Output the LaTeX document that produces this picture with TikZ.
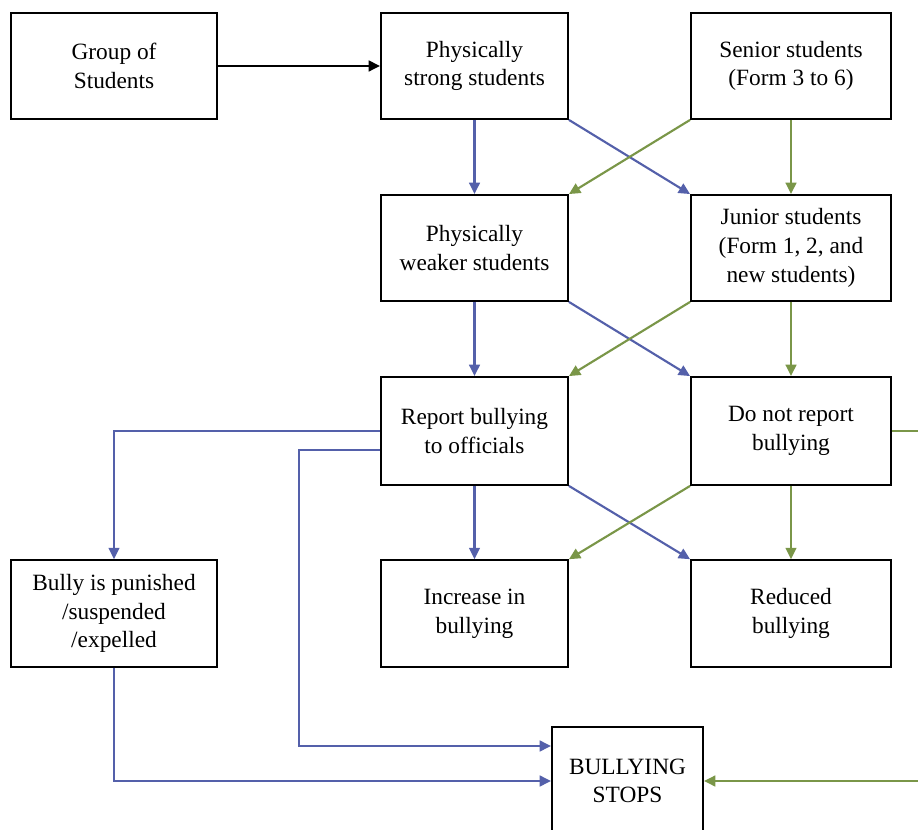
\documentclass[tikz,border=0pt]{standalone}
\usepackage{fontspec}
\setmainfont{Liberation Serif}
\usetikzlibrary{arrows.meta}
\definecolor{bblue}{RGB}{84,96,170}
\definecolor{bgreen}{RGB}{122,150,72}
\begin{document}
\begin{tikzpicture}[x=0.75pt,y=-0.75pt,
  box/.style={draw=black,line width=1.4pt,fill=white,align=center,inner sep=2pt,
    minimum height=79.5pt,font=\fontsize{17.5}{21.5}\selectfont},
  wA/.style={box,minimum width=154.5pt},
  wB/.style={box,minimum width=140.25pt},
  wC/.style={box,minimum width=150pt},
  tip/.style={-{Triangle[length=8.5pt,width=8pt]}},
  bl/.style={tip,draw=bblue,line width=1.6pt},
  gr/.style={tip,draw=bgreen,line width=1.6pt},
  bk/.style={tip,draw=black,line width=1.6pt}]
\useasboundingbox (0,0) rectangle (918,830);
\node[wA] (group) at (114,66) {Group of\\Students};
\node[wB] (strong) at (474.5,66) {Physically\\strong students};
\node[wC] (senior) at (791,66) {Senior students\\(Form 3 to 6)};
\node[wB] (weaker) at (474.5,248) {Physically\\weaker students};
\node[wC] (junior) at (791,248) {Junior students\\(Form 1, 2, and\\new students)};
\node[wB,minimum height=81pt] (report) at (474.5,431) {Report bullying\\to officials};
\node[wC,minimum height=81pt] (dnr) at (791,431) {Do not report\\bullying};
\node[wA,minimum height=80pt] (punished) at (114,613.5) {Bully is punished\\/suspended\\/expelled};
\node[wB,minimum height=80pt] (increase) at (474.5,613.5) {Increase in\\bullying};
\node[wC,minimum height=80pt] (reduced) at (791,613.5) {Reduced\\bullying};
\node[box,minimum width=113.25pt,minimum height=81pt] (stops) at (627.5,781) {BULLYING\\STOPS};

\draw[bk] (group) -- (strong);
\draw[bl] (strong.south) -- (weaker.north);
\draw[bl] (strong.south east) -- (junior.north west);
\draw[gr] (senior.south west) -- (weaker.north east);
\draw[gr] (senior.south) -- (junior.north);
\draw[bl] (weaker.south) -- (report.north);
\draw[bl] (weaker.south east) -- (dnr.north west);
\draw[gr] (junior.south west) -- (report.north east);
\draw[gr] (junior.south) -- (dnr.north);
\draw[bl] (report.south) -- (increase.north);
\draw[bl] (report.south east) -- (reduced.north west);
\draw[gr] (dnr.south west) -- (increase.north east);
\draw[gr] (dnr.south) -- (reduced.north);

\draw[bl] (report.west) -| (punished.north);
\coordinate (c1) at (299,746);
\draw[bl] ([yshift=-14.5pt]report.west) -| (c1) -- (c1 -| stops.west);
\draw[bl] (punished.south) |- (stops.west);
\coordinate (e1) at (930,431);
\coordinate (e2) at (930,781);
\draw[draw=bgreen,line width=1.6pt] (dnr.east) -- (e1);
\draw[gr] (e2) -- (stops.east);
\end{tikzpicture}
\end{document}
